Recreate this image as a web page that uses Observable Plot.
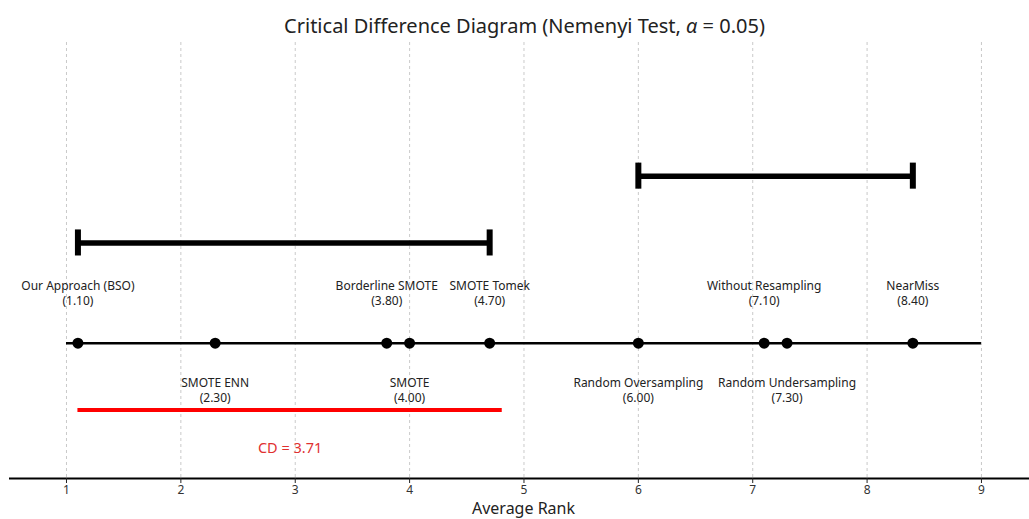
<!DOCTYPE html>
<html>
<head>
<meta charset="utf-8">
<script src="https://cdn.jsdelivr.net/npm/d3@7"></script>
<script src="https://cdn.jsdelivr.net/npm/@observablehq/plot@0.6"></script>
<style>
  html, body { margin: 0; padding: 0; background: #fff; }
  #chart { width: 1029px; font-family: "Noto Sans", sans-serif; }
  #title {
    height: 42px; box-sizing: border-box; padding-top: 13px; padding-left: 20px;
    text-align: center; font-size: 20px; line-height: 26px; color: #222;
  }
  svg { display: block; }
</style>
</head>
<body>
<div id="chart">
  <div id="title">Critical Difference Diagram (Nemenyi Test, <i>α</i> = 0.05)</div>
</div>
<script>
// Methods and their average ranks across datasets
const methods = [
  "Our Approach (BSO)", "SMOTE ENN", "Borderline SMOTE", "SMOTE", "SMOTE Tomek",
  "Random Oversampling", "Without Resampling", "Random Undersampling", "NearMiss"
];
const avgRanks = [1.10, 2.30, 3.80, 4.00, 4.70, 6.00, 7.10, 7.30, 8.40];

// Groups of methods not significantly different (start rank, end rank)
const cliqueStarts = [1.10, 6.00];
const cliqueEnds = [4.70, 8.40];

// Critical difference
const cd = 3.71;

const rankTicks = [1, 2, 3, 4, 5, 6, 7, 8, 9];

// vertical layout levels
const cliqueLevels = [0.6, 1.0];
const capHalf = 0.078;

const rows = methods.map((m, i) => ({
  method: m,
  rank: avgRanks[i],
  above: i % 2 === 0
}));
const cliques = cliqueStarts.map((s, i) => ({x1: s, x2: cliqueEnds[i], y: cliqueLevels[i]}));
const caps = cliques.flatMap(c => [
  {x: c.x1, y1: c.y - capHalf, y2: c.y + capHalf},
  {x: c.x2, y1: c.y - capHalf, y2: c.y + capHalf}
]);
const cdStart = avgRanks[0];

const font = "Noto Sans, sans-serif";

const chart = Plot.plot({
  width: 1029,
  height: 477,
  marginLeft: 9,
  marginRight: 0,
  marginTop: 0,
  marginBottom: 41,
  style: {fontFamily: font, background: "#fff"},
  x: {domain: [0.5017, 9.42]},
  y: {domain: [-0.81, 1.8], axis: null},
  marks: [
    // dashed vertical grid
    Plot.gridX(rankTicks, {stroke: "#bbb", strokeOpacity: 1, strokeWidth: 0.8, strokeDasharray: "3,3"}),
    // bottom axis
    Plot.ruleY([-0.81], {stroke: "#000", strokeWidth: 2}),
    Plot.axisX(rankTicks, {
      tickSize: 5, tickPadding: 2, fontSize: 12, label: null,
      stroke: "#222", fill: "#333", tickFormat: d => String(d)
    }),
    Plot.text(["Average Rank"], {
      frameAnchor: "bottom", dy: 30.5, dx: 4, fontSize: 16, fill: "#222", lineAnchor: "middle"
    }),
    // rank line
    Plot.ruleY([0], {x1: rankTicks[0], x2: rankTicks[rankTicks.length - 1], stroke: "#000", strokeWidth: 2.4}),
    Plot.dot(rows, {x: "rank", y: 0, r: 5.5, fill: "#000", stroke: "none"}),
    // method labels, alternating above and below
    Plot.text(rows.filter(d => d.above), {
      x: "rank", y: 0.3,
      text: d => `${d.method}\n(${d.rank.toFixed(2)})`,
      fontSize: 12, fill: "#222", lineHeight: 1.25, lineAnchor: "middle"
    }),
    Plot.text(rows.filter(d => !d.above), {
      x: "rank", y: -0.28,
      text: d => `${d.method}\n(${d.rank.toFixed(2)})`,
      fontSize: 12, fill: "#222", lineHeight: 1.25, lineAnchor: "middle"
    }),
    // cliques
    Plot.ruleY(cliques, {x1: "x1", x2: "x2", y: "y", stroke: "#000", strokeWidth: 5.5}),
    Plot.ruleX(caps, {x: "x", y1: "y1", y2: "y2", stroke: "#000", strokeWidth: 6}),
    // critical difference bar
    Plot.ruleY([-0.4], {x1: cdStart, x2: cdStart + cd, stroke: "red", strokeWidth: 4}),
    Plot.text([`CD = ${cd.toFixed(2)}`], {
      x: cdStart + cd / 2, y: -0.63, fontSize: 14.5, fill: "#e03030", lineAnchor: "middle"
    })
  ]
});

document.getElementById("chart").appendChild(chart);
</script>
</body>
</html>
